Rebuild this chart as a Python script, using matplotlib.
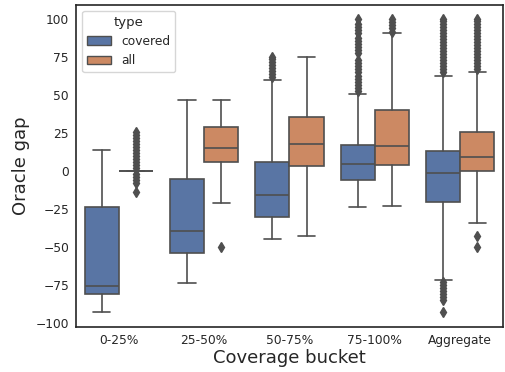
import matplotlib
matplotlib.use("Agg")
import matplotlib.pyplot as plt
import matplotlib.patches as mpatches
import seaborn as sns

# box statistics (per bucket, per type)
buckets = ["0-25%", "25-50%", "50-75%", "75-100%", "Aggregate"]
types = ["covered", "all"]

covered_whislo = [-93, -74, -45, -24, -72]
covered_q1 = [-81, -54, -30, -6, -20.5]
covered_med = [-76, -39.5, -15.5, 4.5, -1]
covered_q3 = [-24, -5.5, 6, 17, 13.5]
covered_whishi = [14, 47, 60, 51, 63]
covered_fliers = [
    [],
    [],
    [62, 64, 66, 68, 70, 72, 74, 75],
    [53, 55, 57, 59, 61, 63, 65, 67, 69, 71, 73, 78, 80, 82, 84, 86, 88, 91, 93, 95, 97, 100],
    [65, 67, 69, 71, 73, 75, 77, 79, 81, 83, 85, 87, 89, 91, 93, 95, 97, 99, 100,
     -73, -75, -77, -79, -81, -83, -85, -93],
]

all_whislo = [0, -21, -43, -23, -34]
all_q1 = [0, 6, 3, 4, 0]
all_med = [0, 15.5, 17.5, 16.5, 9.5]
all_q3 = [0, 29, 35.5, 40, 26]
all_whishi = [0, 47, 75, 91, 65.5]
all_fliers = [
    [26, 24, 22, 20, 18, 16, 14, 12, 10, 8, 6, 4, 2, -2, -4, -6, -8, -14],
    [-50],
    [],
    [92, 94, 96, 98, 100],
    [67, 69, 71, 73, 75, 77, 79, 81, 83, 85, 87, 89, 91, 93, 95, 97, 99, 100, -43, -50],
]

sns.set_theme(style="white")
palette = sns.color_palette("deep", 2, desat=0.75)
line_color = "#4f4f4f"
lw = 1.2

fig = plt.figure(figsize=(5.05, 3.72), dpi=100)
ax = fig.add_axes([0.1505, 0.122, 0.8455, 0.865])


def make_stats(whislo, q1, med, q3, whishi, fliers):
    return [dict(whislo=a, q1=b, med=c, q3=d, whishi=e, fliers=f)
            for a, b, c, d, e, f in zip(whislo, q1, med, q3, whishi, fliers)]


series = [
    make_stats(covered_whislo, covered_q1, covered_med, covered_q3, covered_whishi, covered_fliers),
    make_stats(all_whislo, all_q1, all_med, all_q3, all_whishi, all_fliers),
]
offsets = [-0.2, 0.2]

for stats, off, col in zip(series, offsets, palette):
    positions = [i + off for i in range(len(buckets))]
    ax.bxp(stats, positions=positions, widths=0.4, patch_artist=True,
           showfliers=True, manage_ticks=False,
           boxprops=dict(facecolor=col, edgecolor=line_color, linewidth=lw),
           medianprops=dict(color=line_color, linewidth=lw),
           whiskerprops=dict(color=line_color, linewidth=lw),
           capprops=dict(color=line_color, linewidth=lw),
           flierprops=dict(marker="d", markersize=5, markerfacecolor=line_color,
                           markeredgecolor=line_color, linestyle="none"))

ax.set_xlim(-0.5, len(buckets) - 0.5)
ax.set_ylim(-102.6, 109.6)
ax.set_xticks(range(len(buckets)))
ax.set_xticklabels(buckets)
ax.set_yticks([-100, -75, -50, -25, 0, 25, 50, 75, 100])
ax.tick_params(axis="both", labelsize=8.8, length=0, pad=5)
ax.set_xlabel("Coverage bucket", fontsize=13, labelpad=2)
ax.set_ylabel("Oracle gap", fontsize=13)
for sp in ax.spines.values():
    sp.set_color("#262626")
    sp.set_linewidth(1.2)

handles = [mpatches.Patch(facecolor=c, edgecolor=line_color, label=t)
           for c, t in zip(palette, types)]
ax.legend(handles=handles, title="type", loc="upper left", fontsize=8.8,
          title_fontsize=9.5)

fig.savefig("out.png", dpi=100)
